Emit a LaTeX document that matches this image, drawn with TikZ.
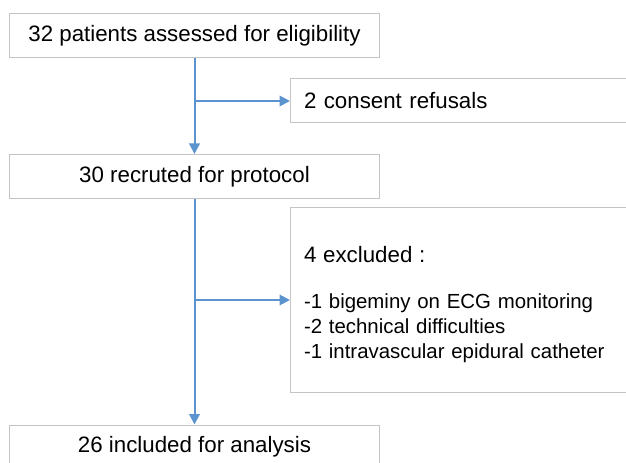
\documentclass[tikz,border=0pt]{standalone}
\usepackage{fontspec}
\setmainfont{Liberation Sans}
\usetikzlibrary{arrows.meta}
\definecolor{flowblue}{HTML}{5B93CF}
\definecolor{boxgray}{HTML}{C4C4C4}
\tikzset{
  x=1bp, y=-1bp,
  mainbox/.style={draw=boxgray, line width=1bp, minimum width=369bp, minimum height=44bp,
    inner sep=0pt, font=\fontsize{22.3bp}{26bp}\selectfont},
  sidebox/.style={draw=boxgray, line width=1bp, anchor=west, inner xsep=13.5bp, inner ysep=0pt,
    text width=323bp, align=left},
  flow/.style={draw=flowblue, line width=2bp, -{Triangle[length=10.5bp,width=10.5bp]}},
}
\begin{document}
\begin{tikzpicture}
\useasboundingbox (0,0) rectangle (626,463);
\clip (0,0) rectangle (626,463);

% main column
\node[mainbox] (assessed) at (194.5,36) {32 patients assessed for eligibility};
\node[mainbox] (recruited) at (194.5,176.5) {30 recruted for protocol};
\node[mainbox] (included) at (194.5,447) {26 included for analysis};

% side boxes, running past the right edge
\node[sidebox, minimum height=44bp, font=\fontsize{22.3bp}{26bp}\selectfont]
  (refused) at (290,101) {2 consent refusals};
\node[sidebox, minimum height=184bp, font=\fontsize{20.4bp}{25bp}\selectfont]
  (excluded) at (290,300)
  {{\fontsize{22.3bp}{26bp}\selectfont\rule{0pt}{24.5bp}4 excluded :}\\[21bp]
   -1 bigeminy on ECG monitoring\\
   -2 technical difficulties\\
   -1 intravascular epidural catheter};

% connectors
\draw[flow] (assessed.south) -- (recruited.north);
\draw[flow] (assessed.south |- refused.west) -- (refused.west);
\draw[flow] (recruited.south) -- (included.north);
\draw[flow] (recruited.south |- excluded.west) -- (excluded.west);
\end{tikzpicture}
\end{document}
